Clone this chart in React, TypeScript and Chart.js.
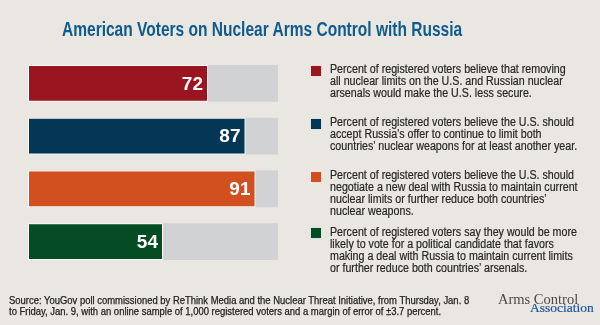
import React, { useEffect, useRef } from "react";
import { Chart, registerables } from "chart.js";

Chart.register(...registerables);

const categories = ["Less secure", "Accept offer", "Negotiate deal", "More likely to vote"];
const values = [72, 87, 91, 54];
const barColors = ["#9b1521", "#033755", "#d24f20", "#054c25"];
const legendTexts = [
  ["Percent of registered voters believe that removing", "all nuclear limits on the U.S. and Russian nuclear", "arsenals would make the U.S. less secure."],
  ["Percent of registered voters believe the U.S. should", "accept Russia\u2019s offer to continue to limit both", "countries\u2019 nuclear weapons for at least another year."],
  ["Percent of registered voters believe the U.S. should", "negotiate a new deal with Russia to maintain current", "nuclear limits or further reduce both countries\u2019", "nuclear weapons."],
  ["Percent of registered voters say they would be more", "likely to vote for a political candidate that favors", "making a deal with Russia to maintain current limits", "or further reduce both countries\u2019 arsenals."],
];
const legendTops = [63, 116, 169, 226];
const squareTops = [65, 118, 171, 227];
const sourceLines = [
  "Source: YouGov poll commissioned by ReThink Media and the Nuclear Threat Initiative, from Thursday, Jan. 8",
  "to Friday, Jan. 9, with an online sample of 1,000 registered voters and a margin of error of \u00b13.7 percent.",
];
const MAX = 100;

const valueLabels = {
  id: "valueLabels",
  afterDatasetsDraw(chart: any) {
    const meta = chart.getDatasetMeta(0);
    const ctx = chart.ctx;
    ctx.save();
    ctx.fillStyle = "#ffffff";
    ctx.font = "bold 19px 'Liberation Sans', Arial, sans-serif";
    ctx.textAlign = "right";
    ctx.textBaseline = "middle";
    meta.data.forEach((bar: any, i: number) => {
      ctx.fillText(String(values[i]), bar.x - 5, bar.y + 1);
    });
    ctx.restore();
  },
};

export default function App() {
  const ref = useRef<HTMLCanvasElement>(null);
  useEffect(() => {
    if (!ref.current) return;
    const chart = new Chart(ref.current, {
      type: "bar",
      data: {
        labels: categories,
        datasets: [
          {
            data: values,
            backgroundColor: barColors,
            borderColor: "rgba(255,255,255,0.85)",
            borderWidth: 1,
            borderSkipped: false,
            barPercentage: 0.7,
            categoryPercentage: 1,
          },
          {
            data: values.map((v) => MAX - v),
            backgroundColor: "#d1d2d4",
            borderWidth: 0,
            barPercentage: 0.7,
            categoryPercentage: 1,
          },
        ],
      },
      options: {
        indexAxis: "y",
        responsive: false,
        devicePixelRatio: 1,
        animation: false,
        layout: { padding: { left: 28, right: 322, top: 57, bottom: 57 } },
        plugins: { legend: { display: false }, tooltip: { enabled: false }, title: { display: false } },
        scales: {
          x: { stacked: true, min: 0, max: MAX, display: false },
          y: { stacked: true, display: false },
        },
      },
      plugins: [valueLabels],
    } as any);
    return () => chart.destroy();
  }, []);

  const sans = "'Liberation Sans', Arial, sans-serif";
  const serif = "'Liberation Serif', 'Times New Roman', serif";

  return (
    <div style={{ position: "fixed", left: 0, top: 0, width: 600, height: 325, background: "#eae7e3", overflow: "hidden" }}>
      <canvas ref={ref} width={600} height={325} style={{ position: "absolute", left: 0, top: 0 }} />
      <div style={{ position: "absolute", left: 62, top: 17, fontFamily: sans, fontWeight: "bold", fontSize: 20, lineHeight: "24px", color: "#0e5b8d", whiteSpace: "nowrap", transform: "scaleX(0.776)", transformOrigin: "0 0" }}>
        American Voters on Nuclear Arms Control with Russia
      </div>
      {legendTexts.map((lines, i) => (
        <div key={i}>
          <div style={{ position: "absolute", left: 310, top: squareTops[i], width: 10, height: 10, background: barColors[i], border: "1px solid rgba(255,255,255,0.85)" }} />
          <div style={{ position: "absolute", left: 330, top: legendTops[i], fontFamily: sans, fontSize: 12, lineHeight: "12px", color: "#262626", whiteSpace: "nowrap", transform: "scaleX(0.89)", transformOrigin: "0 0", WebkitTextStroke: "0.2px #262626" }}>
            {lines.map((l, j) => (
              <div key={j}>{l}</div>
            ))}
          </div>
        </div>
      ))}
      <div style={{ position: "absolute", left: 9, top: 295, fontFamily: sans, fontSize: 10, lineHeight: "11px", color: "#222", whiteSpace: "nowrap", transform: "scaleX(0.945)", transformOrigin: "0 0", WebkitTextStroke: "0.25px #222" }}>
        {sourceLines.map((l, j) => (
          <div key={j}>{l}</div>
        ))}
      </div>
      <div style={{ position: "absolute", left: 498, top: 291, fontFamily: serif, fontSize: 14.5, lineHeight: "16px", color: "#4a4a4a", whiteSpace: "nowrap" }}>
        Arms Control
      </div>
      <div style={{ position: "absolute", left: 530, top: 301, fontFamily: serif, fontSize: 13.5, lineHeight: "14px", color: "#1d55a0", whiteSpace: "nowrap", WebkitTextStroke: "0.2px #1d55a0" }}>
        Association
      </div>
    </div>
  );
}
